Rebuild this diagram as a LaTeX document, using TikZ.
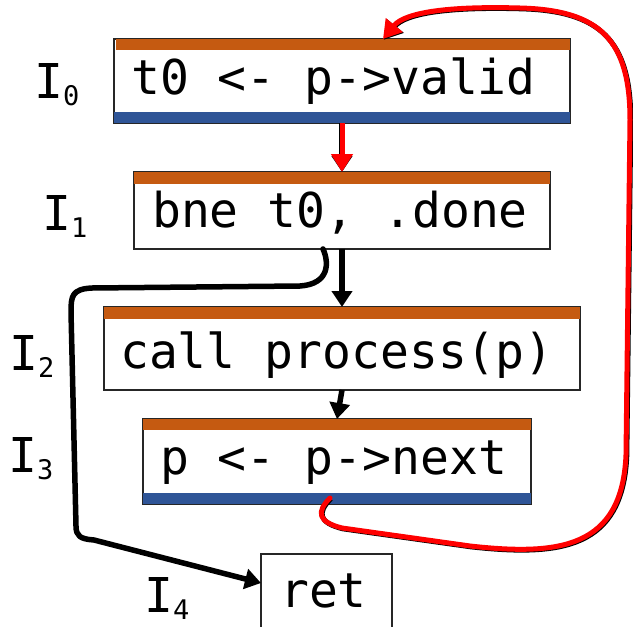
\documentclass[tikz,border=0pt]{standalone}
\usepackage{fontspec}
\newfontfamily\codefont{DejaVu Sans Mono}
\usetikzlibrary{arrows.meta}
\definecolor{barO}{HTML}{C55A11}
\definecolor{barB}{HTML}{2F5597}
\definecolor{redA}{HTML}{FF0000}
\newcommand\lsub[1]{\raisebox{-7pt}{\fontsize{27}{27}\selectfont #1}}
\tikzset{
  box/.style={draw=black!85, line width=1.6pt, inner sep=0pt, outer sep=0pt, fill=white},
  code/.style={anchor=base west, inner sep=0pt, font=\codefont\fontsize{48}{56}\selectfont},
  lbl/.style={anchor=base west, inner sep=0pt, font=\codefont\fontsize{48}{56}\selectfont},
  conn/.style={draw=black, line width=5.5pt, -{Triangle[width=20pt,length=16pt]}},
  rconn/.style={draw=redA, line width=5pt, -{Triangle[width=21pt,length=18pt]}},
  shadowed/.style={preaction={draw=black, line width=5pt, transform canvas={shift={(0.8pt,-0.8pt)}}}}
}
\begin{document}
\begin{tikzpicture}[x=1pt, y=-1pt]
\useasboundingbox (0,0) rectangle (633,627);
\clip (0,0) rectangle (633,627);
% boxes
\node[box, minimum width=456pt, minimum height=84pt] (b0) at (342,81) {};
\node[box, minimum width=416pt, minimum height=77pt] (b1) at (342,210.5) {};
\node[box, minimum width=476pt, minimum height=83pt] (b2) at (342,348.5) {};
\node[box, minimum width=388pt, minimum height=85pt] (b3) at (337,461.5) {};
\node[box, minimum width=131pt, minimum height=86pt] (b4) at (326.5,597) {};
% bars
\fill[barO] ([xshift=2pt]b0.north west) rectangle ([yshift=-11pt]b0.north east);
\fill[barB] (b0.south west) rectangle ([yshift=11pt]b0.south east);
\fill[barO] (b1.north west) rectangle ([yshift=-12pt]b1.north east);
\fill[barO] (b2.north west) rectangle ([yshift=-12pt]b2.north east);
\fill[barO] (b3.north west) rectangle ([yshift=-11pt]b3.north east);
\fill[barB] (b3.south west) rectangle ([yshift=11pt]b3.south east);
% texts
\node[code] (t0) at (131,94) {t0 <- p->valid};
\node[code] (t1) at (152,227) {bne t0, .done};
\node[code] (t2) at (120,368) {call process(p)};
\node[code] (t3) at (160,474) {p <- p->next};
\node[code] (t4) at (280,607) {ret};
% labels
\node[lbl] (l0) at (34,98) {I\lsub{0}};
\node[lbl] (l1) at (42,230) {I\lsub{1}};
\node[lbl] (l2) at (9,370) {I\lsub{2}};
\node[lbl] (l3) at (8,472) {I\lsub{3}};
\node[lbl] (l4) at (144,612) {I\lsub{4}};
% connectors
\draw[conn] (b0.south) -- (b1.north);
\draw[rconn] (b0.south) -- (b1.north);
\draw[conn] (b1.south) -- (b2.north);
\draw[conn] (b2.south) -- (b3.north);
\draw[conn, line cap=round, line join=round]
  ([xshift=-19pt]b1.south) .. controls (329,262) and (330,284) .. (300,286)
  -- (92,288) .. controls (72,289) and (71,296) .. (71,312)
  -- (76,526) .. controls (76,536) and (80,539) .. (94,540)
  -- ([yshift=14pt]b4.west);
\draw[rconn, shadowed, line cap=round, line join=round]
  ([xshift=-7pt,yshift=6pt]b3.south) .. controls (316,512) and (318,522) .. (342,528)
  -- (470,546) .. controls (560,556) and (622,548) .. (626,455)
  -- (630,120) .. controls (630,40) and (600,10) .. (520,8)
  .. controls (450,6) and (405,12) .. ([xshift=41pt]b0.north);
\end{tikzpicture}
\end{document}
